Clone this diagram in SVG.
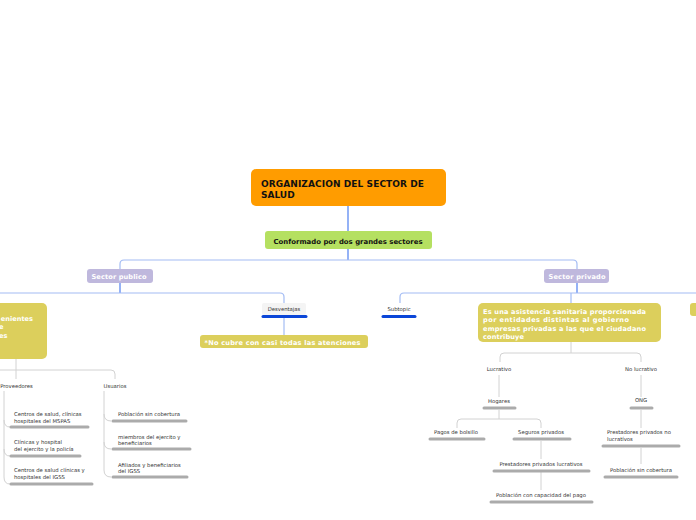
<svg xmlns="http://www.w3.org/2000/svg" width="696" height="520" viewBox="0 0 696 520">
<style>
.bl{fill:none;stroke:#4d7ff0;stroke-width:1.2}
.lb{fill:none;stroke:#a3bcf4;stroke-width:1.2}
.gl{fill:none;stroke:#d2d2d2;stroke-width:1}
.bar{stroke:#ababab;stroke-width:3;stroke-linecap:round}
.bbar{stroke:#0b46d8;stroke-width:3;stroke-linecap:round}
.t{font-family:"DejaVu Sans",Verdana,sans-serif;font-size:5.3px;fill:#333}
.c{text-anchor:middle}
.wb{font-family:"DejaVu Sans",Verdana,sans-serif;font-weight:bold;font-size:6.6px;fill:#fff}
.yel{fill:#dccf5c}
.lav{fill:#bfb8dd}
</style>
<rect width="696" height="520" fill="#fff"/>
<g id="connectors">
<path class="bl" d="M348,206 V231"/>
<path class="bl" d="M348,249 V260"/>
<path class="lb" d="M120,269 V264 Q120,260 124,260 H573 Q577,260 577,264 V269"/>
<path class="bl" d="M120,283 V293"/>
<path class="lb" d="M0,293 H280 Q284,293 284,297 V303"/>
<path class="bl" d="M577,283 V293"/>
<path class="lb" d="M400,303 V297 Q400,293 404,293 H696"/>
<path class="lb" d="M571,293 V303"/>
<path class="lb" d="M284,318 V335"/>
<path class="gl" d="M16,359 V379"/>
<path class="gl" d="M0,370 H111 Q115,370 115,374 V379"/>
<path class="gl" d="M4,391 V420 Q4,427 10,427"/>
<path class="gl" d="M4,420 V449 Q4,456 10,456"/>
<path class="gl" d="M4,449 V477 Q4,484 10,484"/>
<path class="gl" d="M104,391 V414 Q104,421 111,421"/>
<path class="gl" d="M104,414 V442 Q104,449 111,449"/>
<path class="gl" d="M104,442 V470 Q104,477 111,477"/>
<path class="gl" d="M571,342 V353"/>
<path class="gl" d="M500,362 V357 Q500,353 504,353 H637 Q641,353 641,357 V362"/>
<path class="gl" d="M499,375 V397"/>
<path class="gl" d="M499,410 V419"/>
<path class="gl" d="M457,428 V423 Q457,419 461,419 H537 Q541,419 541,423 V428"/>
<path class="gl" d="M541,441 V459"/>
<path class="gl" d="M541,472 V490"/>
<path class="gl" d="M641,375 V397"/>
<path class="gl" d="M641,410 V428"/>
<path class="gl" d="M641,448 V464"/>
</g>
<g id="root">
<rect x="251" y="169" width="195" height="37" rx="5" fill="#ff9c00"/>
<text x="261" y="186.5" font-family="DejaVu Sans,Verdana,sans-serif" font-weight="bold" font-size="9" fill="#111" textLength="163">ORGANIZACION DEL SECTOR DE</text>
<text x="261" y="197.5" font-family="DejaVu Sans,Verdana,sans-serif" font-weight="bold" font-size="9" fill="#111">SALUD</text>
</g>
<g id="conformado">
<rect x="265" y="231" width="167" height="18" rx="3" fill="#b5e061"/>
<text x="348" y="243.5" class="c" font-family="DejaVu Sans,Verdana,sans-serif" font-weight="bold" font-size="6.9" fill="#111" textLength="149">Conformado por dos grandes sectores</text>
</g>
<g id="sector-publico">
<rect class="lav" x="87" y="269" width="66" height="14" rx="3"/>
<text class="wb c" x="119" y="278.5" textLength="55">Sector publico</text>
</g>
<g id="sector-privado">
<rect class="lav" x="544" y="269" width="65" height="14" rx="3"/>
<text class="wb c" x="577" y="278.5" textLength="57">Sector privado</text>
</g>
<g id="left-node">
<rect class="yel" x="-20" y="303" width="67" height="56" rx="5"/>
<text class="wb" x="33" y="320.5" text-anchor="end">enientes</text>
<text class="wb" x="3.5" y="329" text-anchor="end">e</text>
<text class="wb" x="7.5" y="337.5" text-anchor="end">es</text>
</g>
<g id="desventajas">
<rect x="262" y="303" width="44" height="12" rx="2" fill="#f4f4f4"/>
<text class="t c" x="284" y="311">Desventajas</text>
<line class="bbar" x1="263" y1="316.5" x2="306" y2="316.5"/>
</g>
<g id="no-cubre">
<rect class="yel" x="200" y="335" width="168" height="13" rx="3"/>
<text class="wb" x="204.5" y="344.5" textLength="156">*No cubre con casi todas las atenciones</text>
</g>
<g id="subtopic">
<text class="t c" x="399" y="311">Subtopic</text>
<line class="bbar" x1="383" y1="316.5" x2="415" y2="316.5"/>
</g>
<g id="privado-def">
<rect class="yel" x="478" y="303" width="183" height="39" rx="5"/>
<text class="wb" x="483" y="313.5" textLength="163">Es una asistencia sanitaria proporcionada</text>
<text class="wb" x="483" y="322" textLength="146">por entidades distintas al gobierno</text>
<text class="wb" x="483" y="330.5" textLength="163">empresas privadas a las que el ciudadano</text>
<text class="wb" x="483" y="339" textLength="41">contribuye</text>
</g>
<g id="right-edge">
<rect class="yel" x="690" y="303" width="20" height="13" rx="3"/>
</g>
<g id="proveedores">
<text class="t c" x="16.5" y="388">Proveedores</text>
</g>
<g id="usuarios">
<text class="t c" x="115" y="388">Usuarios</text>
</g>
<g id="prov-1">
<text class="t" x="14" y="416">Centros de salud, clínicas</text>
<text class="t" x="14" y="423">hospitales del MSPAS</text>
<line class="bar" x1="11" y1="427" x2="88" y2="427"/>
</g>
<g id="prov-2">
<text class="t" x="14" y="444">Clínicas y hospital</text>
<text class="t" x="14" y="451">del ejercito y la policía</text>
<line class="bar" x1="11" y1="456" x2="80" y2="456"/>
</g>
<g id="prov-3">
<text class="t" x="14" y="472">Centros de salud clínicas y</text>
<text class="t" x="14" y="479">hospitales del IGSS</text>
<line class="bar" x1="11" y1="484" x2="92" y2="484"/>
</g>
<g id="usu-1">
<text class="t" x="118" y="416">Población sin cobertura</text>
<line class="bar" x1="113" y1="421" x2="186" y2="421"/>
</g>
<g id="usu-2">
<text class="t" x="118" y="438.5">miembros del ejercito y</text>
<text class="t" x="118" y="445">beneficiarios</text>
<line class="bar" x1="113" y1="449" x2="190" y2="449"/>
</g>
<g id="usu-3">
<text class="t" x="118" y="466.5">Afiliados y beneficiarios</text>
<text class="t" x="118" y="473">del IGSS</text>
<line class="bar" x1="113" y1="477" x2="187" y2="477"/>
</g>
<g id="lucrativo">
<text class="t c" x="499" y="371">Lucrativo</text>
</g>
<g id="hogares">
<text class="t c" x="499" y="403">Hogares</text>
<line class="bar" x1="484" y1="408" x2="515" y2="408"/>
</g>
<g id="pagos">
<text class="t c" x="456" y="434">Pagos de bolsillo</text>
<line class="bar" x1="430" y1="439" x2="484" y2="439"/>
</g>
<g id="seguros">
<text class="t c" x="541" y="434">Seguros privados</text>
<line class="bar" x1="514" y1="439" x2="570" y2="439"/>
</g>
<g id="prest-lucr">
<text class="t c" x="541" y="466">Prestadores privados lucrativos</text>
<line class="bar" x1="494" y1="471" x2="589" y2="471"/>
</g>
<g id="pob-pago">
<text class="t c" x="541" y="497">Población con capacidad del pago</text>
<line class="bar" x1="491" y1="502" x2="592" y2="502"/>
</g>
<g id="no-lucrativo">
<text class="t c" x="641" y="371">No lucrativo</text>
</g>
<g id="ong">
<text class="t c" x="641" y="402">ONG</text>
<line class="bar" x1="631" y1="408" x2="652" y2="408"/>
</g>
<g id="prest-nolucr">
<text class="t" x="607" y="434">Prestadores privados no</text>
<text class="t" x="607" y="441">lucratívos</text>
<line class="bar" x1="603" y1="446" x2="679" y2="446"/>
</g>
<g id="pob-sin">
<text class="t c" x="641" y="472">Población sin cobertura</text>
<line class="bar" x1="605" y1="477" x2="677" y2="477"/>
</g>
</svg>
